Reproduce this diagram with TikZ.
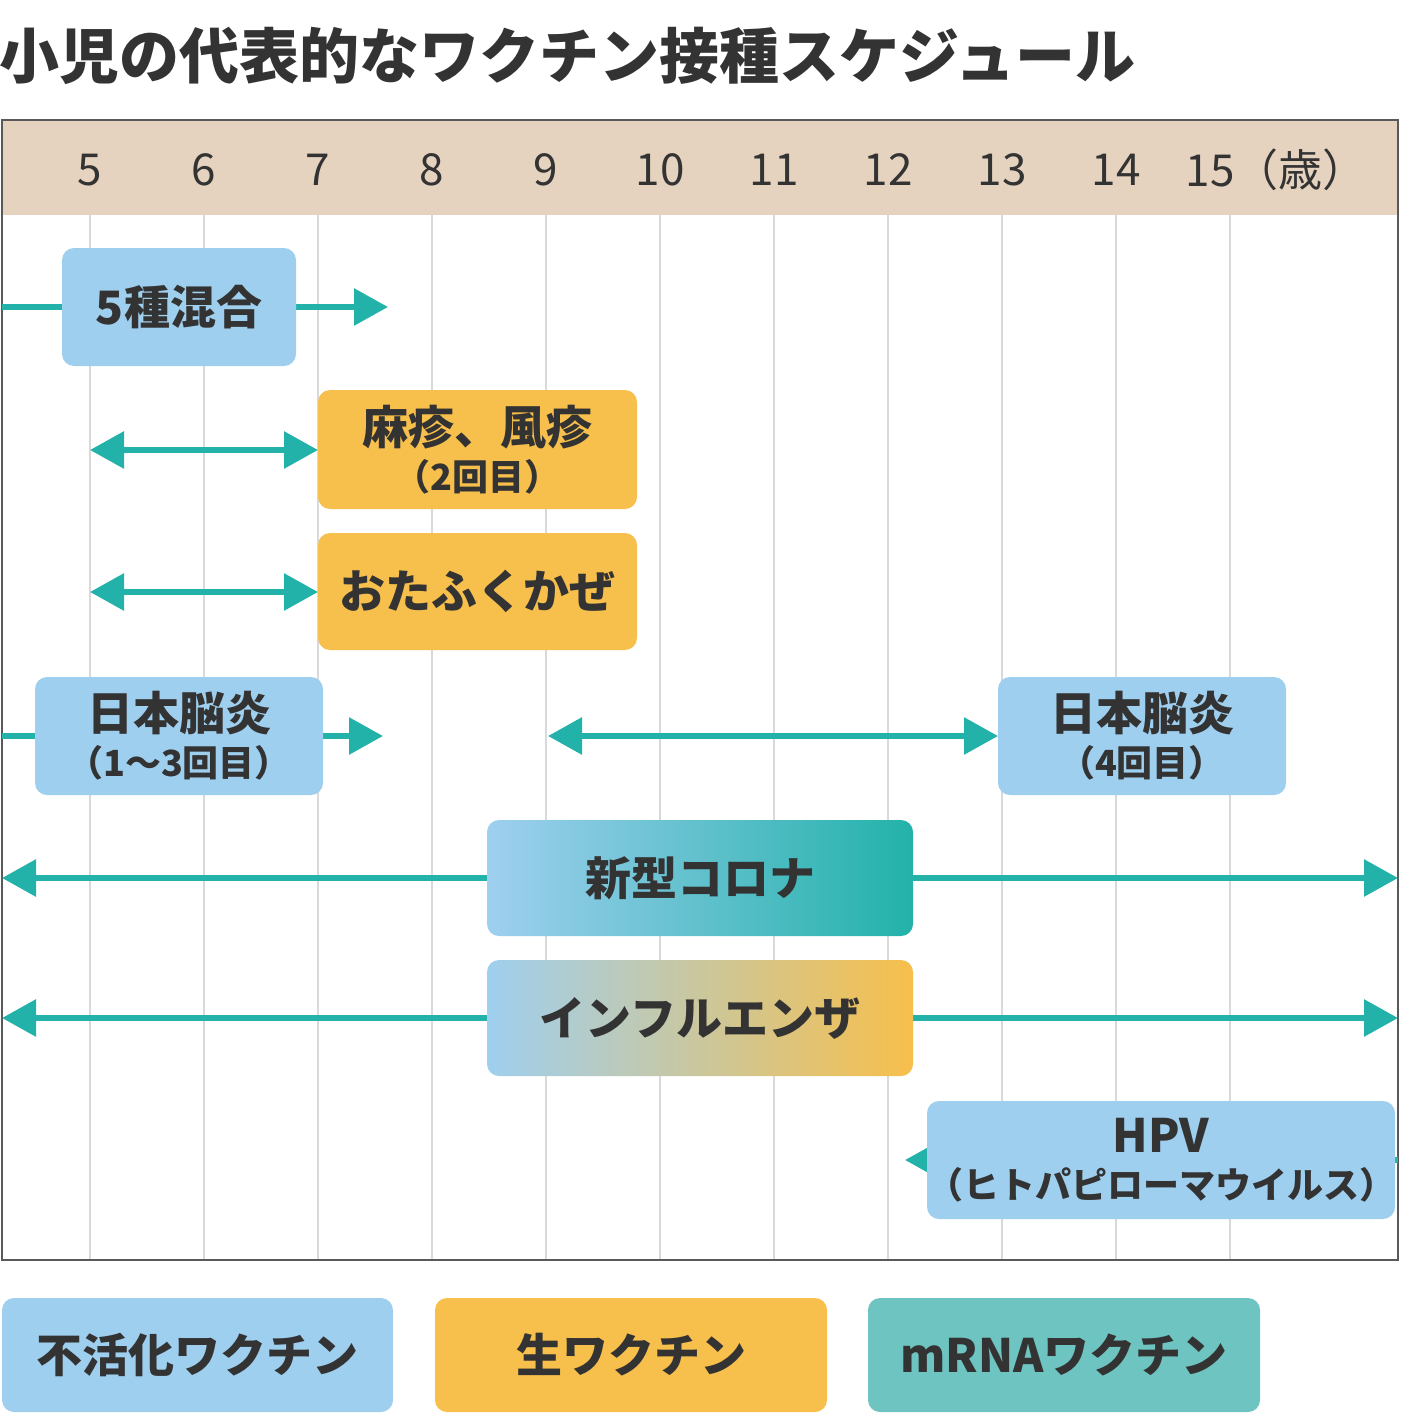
\documentclass[tikz,border=0pt]{standalone}
\usepackage{fontspec}
\setmainfont{Noto Sans CJK JP}
\usetikzlibrary{arrows.meta}
\definecolor{hdr}{HTML}{E5D2BF}
\definecolor{bl}{HTML}{9FCFEF}
\definecolor{org}{HTML}{F7BF4B}
\definecolor{tl}{HTML}{22B2AA}
\definecolor{mr}{HTML}{6EC4C0}
\definecolor{txt}{HTML}{333333}
\newcommand{\subf}{\bfseries\fontsize{36}{40}\selectfont}
\begin{document}
\begin{tikzpicture}[x=1pt,y=-1pt,
  box/.style={rounded corners=12pt,inner sep=0pt,align=center,text=txt,font=\bfseries\fontsize{46}{50}\selectfont},
  arr/.style={tl,line width=6pt},
  tip/.style={-{Triangle[length=34pt,width=36pt]}},
  dtip/.style={{Triangle[length=34pt,width=36pt]}-{Triangle[length=34pt,width=36pt]}},
  grid/.style={gray!30,line width=1.5pt},
  num/.style={text=txt,font=\fontsize{44}{44}\selectfont}]
\useasboundingbox (0,0) rectangle (1400,1413);
\node[anchor=west,text=txt,font=\bfseries\fontsize{60}{60}\selectfont] (title) at (-4,56) {小児の代表的なワクチン接種スケジュール};
\fill[hdr] (2,120) rectangle (1398,215);
\foreach \i/\x in {5/90,6/204,7/318,8/432,9/546,10/660,11/774,12/888,13/1002,14/1116,15/1230}{
  \draw[grid] (\x,215) -- (\x,1260);
}
\foreach \i/\x in {5/90,6/204,7/318,8/432,9/546,10/660,11/774,12/888,13/1002,14/1116}{
  \node[num] (n\i) at (\x,170) {\i};
}
\node[num] (n15) at (1276,170) {15（歳）};
\draw[gray!70!black,line width=1.5pt] (2,120) rectangle (1398,1260);
% arrows
\coordinate (a1s) at (2,307); \coordinate (a1e) at (388,307);
\draw[arr,tip] (a1s) -- (a1e);
\coordinate (a2s) at (90,450); \coordinate (a2e) at (318,450);
\draw[arr,dtip] (a2s) -- (a2e);
\coordinate (a3s) at (90,592); \coordinate (a3e) at (318,592);
\draw[arr,dtip] (a3s) -- (a3e);
\coordinate (a4s) at (2,736); \coordinate (a4e) at (383,736);
\draw[arr,tip] (a4s) -- (a4e);
\coordinate (a5s) at (548,736); \coordinate (a5e) at (998,736);
\draw[arr,dtip] (a5s) -- (a5e);
\coordinate (a6s) at (2,878); \coordinate (a6e) at (1398,878);
\draw[arr,dtip] (a6s) -- (a6e);
\coordinate (a7s) at (2,1018); \coordinate (a7e) at (1398,1018);
\draw[arr,dtip] (a7s) -- (a7e);
\coordinate (a8s) at (1398,1160); \coordinate (a8e) at (905,1160);
\draw[arr,tip] (a8s) -- (a8e);
% boxes
\node[box,fill=bl,minimum width=234pt,minimum height=118pt] (b1) at (179,307) {5種混合};
\node[box,fill=org,minimum width=319pt,minimum height=119pt] (b2) at (477.5,449.5) {麻疹、風疹\\[-4pt]{\subf（2回目）}};
\node[box,fill=org,minimum width=319pt,minimum height=117pt] (b3) at (477.5,591.5) {おたふくかぜ};
\node[box,fill=bl,minimum width=288pt,minimum height=118pt] (b4) at (179,736) {日本脳炎\\[-4pt]{\subf（1～3回目）}};
\node[box,fill=bl,minimum width=288pt,minimum height=118pt] (b5) at (1142,736) {日本脳炎\\[-4pt]{\subf（4回目）}};
\node[box,left color=bl,right color=tl,minimum width=426pt,minimum height=116pt] (b6) at (700,878) {新型コロナ};
\node[box,left color=bl,right color=org,minimum width=426pt,minimum height=116pt] (b7) at (700,1018) {インフルエンザ};
\node[box,fill=bl,minimum width=408pt,minimum height=118pt] (b8) at (1161,1160) {HPV\\[-4pt]{\subf（ヒトパピローマウイルス）}};
% legend
\node[box,fill=bl,minimum width=391pt,minimum height=114pt] (l1) at (197.5,1355) {不活化ワクチン};
\node[box,fill=org,minimum width=392pt,minimum height=114pt] (l2) at (631,1355) {生ワクチン};
\node[box,fill=mr,minimum width=392pt,minimum height=114pt] (l3) at (1064,1355) {mRNAワクチン};
\end{tikzpicture}
\end{document}
